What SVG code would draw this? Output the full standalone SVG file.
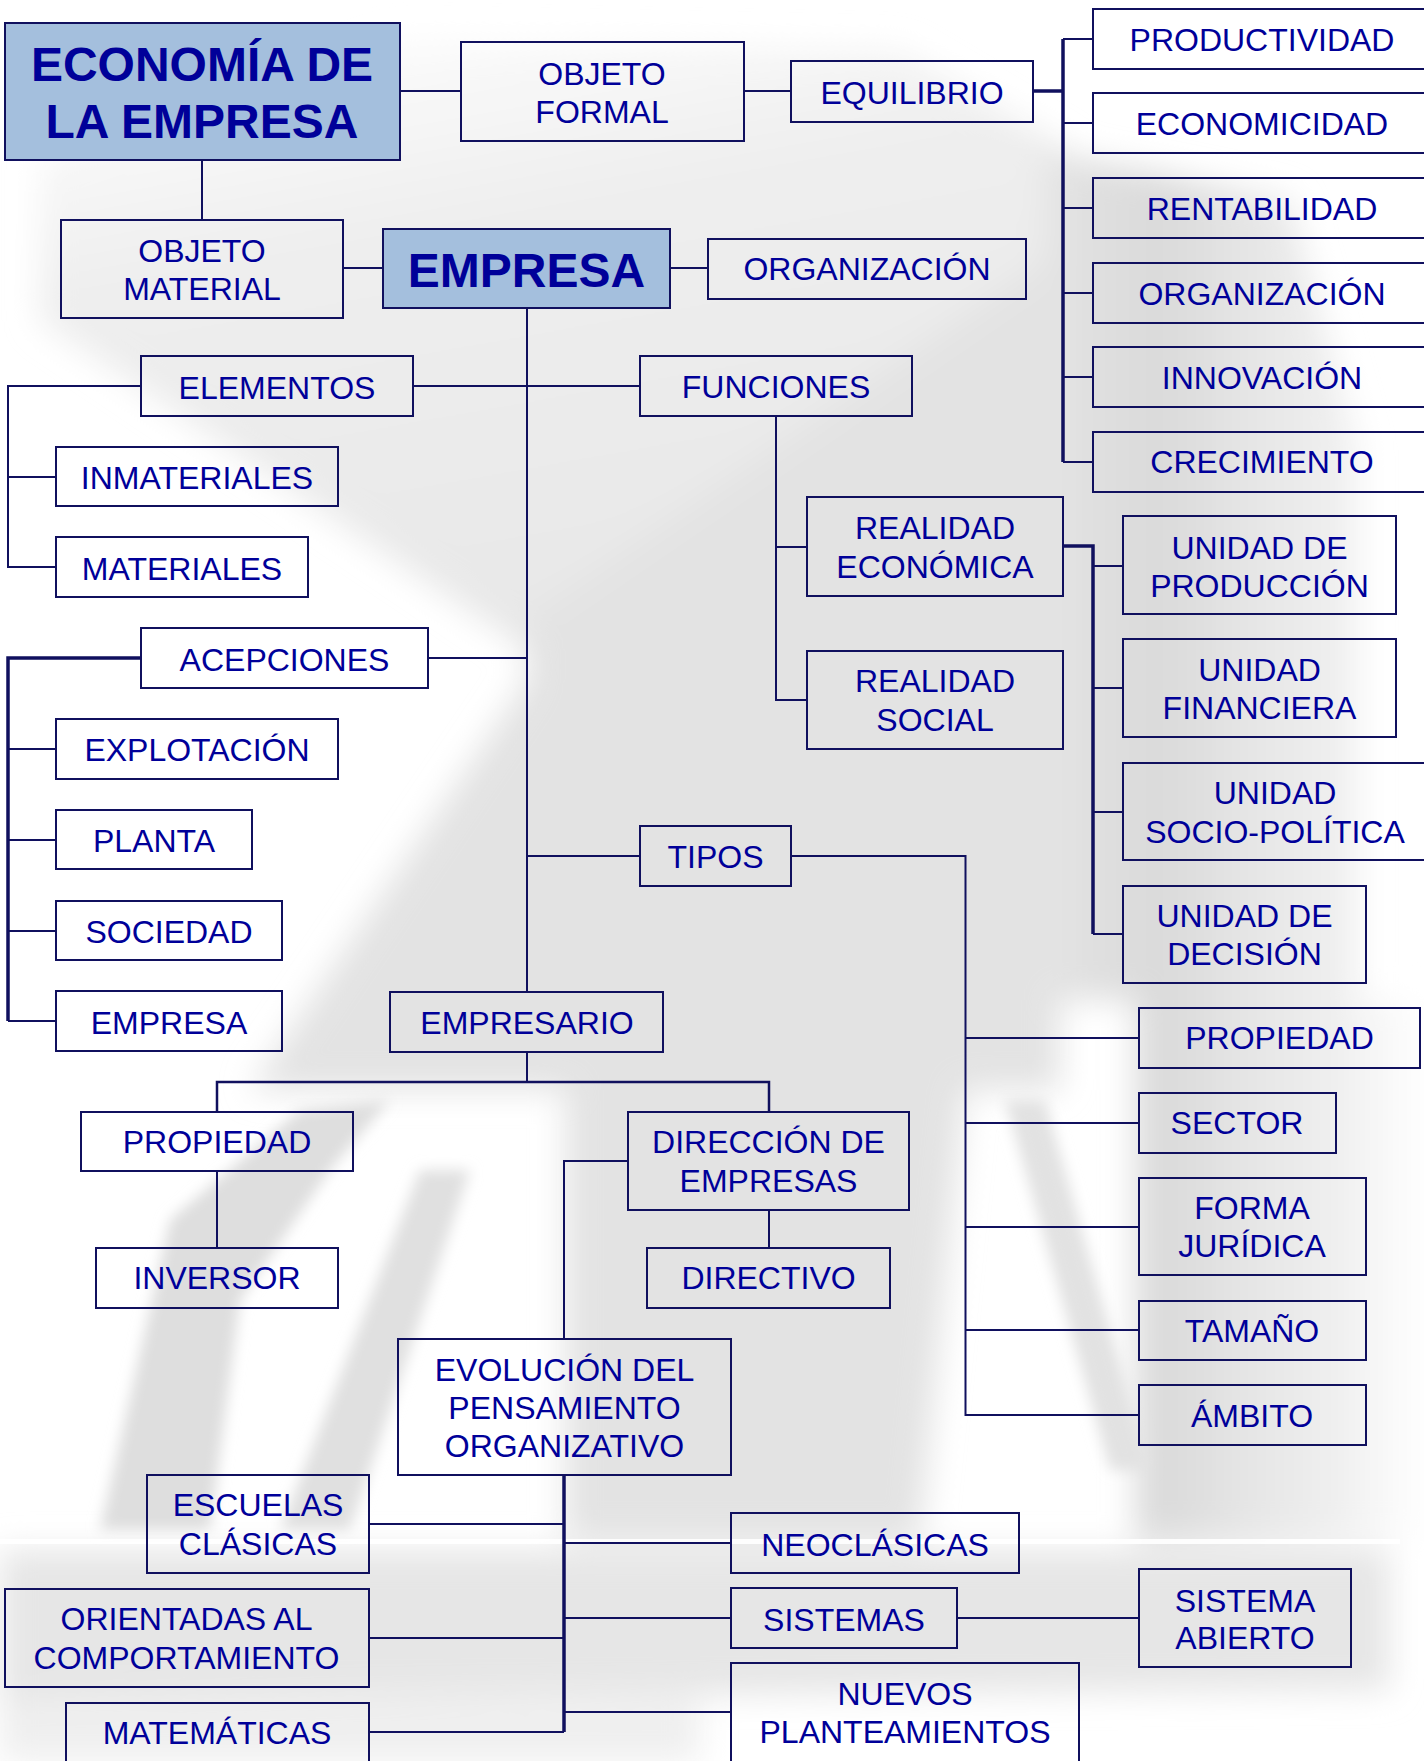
<svg xmlns="http://www.w3.org/2000/svg" width="1424" height="1761" viewBox="0 0 1424 1761">
<defs>
<style>
.box{fill:none;stroke:#10105e;stroke-width:2}
.hbox{fill:#a4bfdd;stroke:#10105e;stroke-width:2}
.t{font-family:"Liberation Sans",Arial,sans-serif;font-size:32px;fill:#000099;text-anchor:middle}
.tb{font-weight:bold;font-size:48px}
.c{fill:none;stroke:#10105e;stroke-width:2}
.ct{stroke-width:3.5}
</style>
<filter id="blur" x="-20%" y="-20%" width="140%" height="140%"><feGaussianBlur stdDeviation="16"/></filter>
<filter id="blur2" x="-20%" y="-20%" width="140%" height="140%"><feGaussianBlur stdDeviation="7"/></filter>
<linearGradient id="bld" x1="0" y1="0" x2="1" y2="0">
<stop offset="0" stop-color="#e4e4e4"/><stop offset="0.3" stop-color="#dadada"/><stop offset="0.55" stop-color="#e6e6e6"/><stop offset="0.75" stop-color="#eeeeee"/><stop offset="1" stop-color="#ffffff"/>
</linearGradient>
<linearGradient id="top" x1="0" y1="0" x2="0.3" y2="1">
<stop offset="0" stop-color="#ffffff"/><stop offset="0.4" stop-color="#eeeeee"/><stop offset="1" stop-color="#e8e8e8"/>
</linearGradient>
</defs>
<g id="background">
<rect x="0" y="0" width="1424" height="1761" fill="#ffffff"/>
<g filter="url(#blur)">
<polygon points="40,160 400,40 900,50 1070,150 1070,620 527,650 40,320" fill="url(#top)"/>
<polygon points="527,620 1060,250 1060,1090 965,1090 920,1540 565,1540 565,1090 250,1090 527,680" fill="#e3e3e3"/>
<polygon points="1045,150 1290,200 1360,450 1360,1000 1424,1000 1424,1540 1135,1540 1135,1000 1045,1000" fill="url(#bld)"/>
<polygon points="0,1550 1390,1550 1390,1690 0,1700" fill="#e6e6e6"/>
<polygon points="0,1700 700,1700 700,1761 0,1761" fill="#efefef"/>
</g>
<g filter="url(#blur2)">
<polygon points="1005,1100 1045,1100 1150,1470 1110,1470" fill="#e2e2e2"/>
<polygon points="100,1530 170,1220 300,1110 390,1100 330,1170 240,1300 210,1530" fill="#dedede"/>
<polygon points="280,1530 420,1170 470,1170 350,1530" fill="#e0e0e0"/>
</g>
<rect x="0" y="1539" width="1400" height="5" fill="#ffffff" opacity="0.9"/>
</g>
<g id="connectors">
<path class="c" d="M400 91H461"/>
<path class="c" d="M744 91H791"/>
<path class="c ct" d="M1033 91H1063"/>
<path class="c ct" d="M1063 39V462"/>
<path class="c" d="M1063 39H1093M1063 123H1093M1063 208H1093M1063 293H1093M1063 377H1093M1063 462H1093"/>
<path class="c" d="M202 160V220"/>
<path class="c" d="M343 268H383"/>
<path class="c" d="M670 268H708"/>
<path class="c" d="M527 308V992"/>
<path class="c" d="M413 386H640"/>
<path class="c" d="M141 386H8V567H56M8 477H56"/>
<path class="c" d="M776 416V700H807M776 547H807"/>
<path class="c ct" d="M1063 546H1093V934"/>
<path class="c" d="M1093 566H1123M1093 688H1123M1093 812H1123M1093 934H1123"/>
<path class="c" d="M428 658H527"/>
<path class="c ct" d="M141 658H8V1021"/>
<path class="c" d="M8 749H56M8 840H56M8 931H56M8 1021H56"/>
<path class="c" d="M527 856H640"/>
<path class="c" d="M791 856H965.5V1415H1139M965.5 1038H1139M965.5 1123H1139M965.5 1227H1139M965.5 1330H1139"/>
<path class="c" d="M527 1052V1082"/>
<path class="c" style="stroke-width:2.5" d="M217 1112V1082H769V1112"/>
<path class="c" d="M217 1171V1248"/>
<path class="c" d="M769 1210V1248"/>
<path class="c" d="M628 1161H564V1339"/>
<path class="c ct" d="M564 1475V1732"/>
<path class="c" d="M564 1524H369M564 1638H369M564 1732H369M564 1543H731M564 1618H731M564 1712H731"/>
<path class="c" d="M957 1618H1139"/>
</g>
<g id="n-economia"><rect class="hbox" x="5" y="23" width="395" height="137"/><text class="t tb" x="202" y="81">ECONOMÍA DE</text><text class="t tb" x="202" y="138">LA EMPRESA</text></g>
<g id="n-objeto-formal"><rect class="box" x="461" y="42" width="283" height="99"/><text class="t" x="602" y="85">OBJETO</text><text class="t" x="602" y="123">FORMAL</text></g>
<g id="n-equilibrio"><rect class="box" x="791" y="61" width="242" height="61"/><text class="t" x="912" y="104">EQUILIBRIO</text></g>
<g id="n-productividad"><rect class="box" x="1093" y="9" width="338" height="60"/><text class="t" x="1262" y="51">PRODUCTIVIDAD</text></g>
<g id="n-economicidad"><rect class="box" x="1093" y="93" width="338" height="60"/><text class="t" x="1262" y="135">ECONOMICIDAD</text></g>
<g id="n-rentabilidad"><rect class="box" x="1093" y="178" width="338" height="60"/><text class="t" x="1262" y="220">RENTABILIDAD</text></g>
<g id="n-organizacion-r"><rect class="box" x="1093" y="263" width="338" height="60"/><text class="t" x="1262" y="305">ORGANIZACIÓN</text></g>
<g id="n-innovacion"><rect class="box" x="1093" y="347" width="338" height="60"/><text class="t" x="1262" y="389">INNOVACIÓN</text></g>
<g id="n-crecimiento"><rect class="box" x="1093" y="432" width="338" height="60"/><text class="t" x="1262" y="473">CRECIMIENTO</text></g>
<g id="n-objeto-material"><rect class="box" x="61" y="220" width="282" height="98"/><text class="t" x="202" y="262">OBJETO</text><text class="t" x="202" y="300">MATERIAL</text></g>
<g id="n-empresa"><rect class="hbox" x="383" y="229" width="287" height="79"/><text class="t tb" x="526.5" y="287">EMPRESA</text></g>
<g id="n-organizacion-m"><rect class="box" x="708" y="239" width="318" height="60"/><text class="t" x="867" y="280">ORGANIZACIÓN</text></g>
<g id="n-elementos"><rect class="box" x="141" y="356" width="272" height="60"/><text class="t" x="277" y="399">ELEMENTOS</text></g>
<g id="n-funciones"><rect class="box" x="640" y="356" width="272" height="60"/><text class="t" x="776" y="398">FUNCIONES</text></g>
<g id="n-inmateriales"><rect class="box" x="56" y="447" width="282" height="59"/><text class="t" x="197" y="489">INMATERIALES</text></g>
<g id="n-materiales"><rect class="box" x="56" y="537" width="252" height="60"/><text class="t" x="182" y="580">MATERIALES</text></g>
<g id="n-realidad-economica"><rect class="box" x="807" y="497" width="256" height="99"/><text class="t" x="935" y="539">REALIDAD</text><text class="t" x="935" y="578">ECONÓMICA</text></g>
<g id="n-realidad-social"><rect class="box" x="807" y="651" width="256" height="98"/><text class="t" x="935" y="692">REALIDAD</text><text class="t" x="935" y="731">SOCIAL</text></g>
<g id="n-unidad-produccion"><rect class="box" x="1123" y="516" width="273" height="98"/><text class="t" x="1259.5" y="559">UNIDAD DE</text><text class="t" x="1259.5" y="597">PRODUCCIÓN</text></g>
<g id="n-unidad-financiera"><rect class="box" x="1123" y="639" width="273" height="98"/><text class="t" x="1259.5" y="681">UNIDAD</text><text class="t" x="1259.5" y="719">FINANCIERA</text></g>
<g id="n-unidad-sociopolitica"><rect class="box" x="1123" y="763" width="304" height="97"/><text class="t" x="1275" y="804">UNIDAD</text><text class="t" x="1275" y="843">SOCIO-POLÍTICA</text></g>
<g id="n-unidad-decision"><rect class="box" x="1123" y="886" width="243" height="97"/><text class="t" x="1244.5" y="927">UNIDAD DE</text><text class="t" x="1244.5" y="965">DECISIÓN</text></g>
<g id="n-acepciones"><rect class="box" x="141" y="628" width="287" height="60"/><text class="t" x="284.5" y="671">ACEPCIONES</text></g>
<g id="n-explotacion"><rect class="box" x="56" y="719" width="282" height="60"/><text class="t" x="197" y="761">EXPLOTACIÓN</text></g>
<g id="n-planta"><rect class="box" x="56" y="810" width="196" height="59"/><text class="t" x="154" y="852">PLANTA</text></g>
<g id="n-sociedad"><rect class="box" x="56" y="901" width="226" height="59"/><text class="t" x="169" y="943">SOCIEDAD</text></g>
<g id="n-empresa-acepcion"><rect class="box" x="56" y="991" width="226" height="60"/><text class="t" x="169" y="1034">EMPRESA</text></g>
<g id="n-tipos"><rect class="box" x="640" y="826" width="151" height="60"/><text class="t" x="715.5" y="868">TIPOS</text></g>
<g id="n-empresario"><rect class="box" x="390" y="992" width="273" height="60"/><text class="t" x="527" y="1034">EMPRESARIO</text></g>
<g id="n-propiedad-tipo"><rect class="box" x="1139" y="1008" width="281" height="60"/><text class="t" x="1279.5" y="1049">PROPIEDAD</text></g>
<g id="n-sector"><rect class="box" x="1139" y="1093" width="197" height="60"/><text class="t" x="1237" y="1134">SECTOR</text></g>
<g id="n-forma-juridica"><rect class="box" x="1139" y="1178" width="227" height="97"/><text class="t" x="1252" y="1219">FORMA</text><text class="t" x="1252" y="1257">JURÍDICA</text></g>
<g id="n-tamano"><rect class="box" x="1139" y="1301" width="227" height="59"/><text class="t" x="1252" y="1342">TAMAÑO</text></g>
<g id="n-ambito"><rect class="box" x="1139" y="1385" width="227" height="60"/><text class="t" x="1252" y="1427">ÁMBITO</text></g>
<g id="n-propiedad-empresario"><rect class="box" x="81" y="1112" width="272" height="59"/><text class="t" x="217" y="1153">PROPIEDAD</text></g>
<g id="n-inversor"><rect class="box" x="96" y="1248" width="242" height="60"/><text class="t" x="217" y="1289">INVERSOR</text></g>
<g id="n-direccion"><rect class="box" x="628" y="1112" width="281" height="98"/><text class="t" x="768.5" y="1153">DIRECCIÓN DE</text><text class="t" x="768.5" y="1192">EMPRESAS</text></g>
<g id="n-directivo"><rect class="box" x="647" y="1248" width="243" height="60"/><text class="t" x="768.5" y="1289">DIRECTIVO</text></g>
<g id="n-evolucion"><rect class="box" x="398" y="1339" width="333" height="136"/><text class="t" x="564.5" y="1381">EVOLUCIÓN DEL</text><text class="t" x="564.5" y="1419">PENSAMIENTO</text><text class="t" x="564.5" y="1457">ORGANIZATIVO</text></g>
<g id="n-escuelas"><rect class="box" x="147" y="1475" width="222" height="98"/><text class="t" x="258" y="1516">ESCUELAS</text><text class="t" x="258" y="1555">CLÁSICAS</text></g>
<g id="n-orientadas"><rect class="box" x="5" y="1589" width="364" height="98"/><text class="t" x="186.5" y="1630">ORIENTADAS AL</text><text class="t" x="186.5" y="1669">COMPORTAMIENTO</text></g>
<g id="n-matematicas"><rect class="box" x="66" y="1703" width="303" height="80"/><text class="t" x="217" y="1744">MATEMÁTICAS</text></g>
<g id="n-neoclasicas"><rect class="box" x="731" y="1513" width="288" height="60"/><text class="t" x="875" y="1556">NEOCLÁSICAS</text></g>
<g id="n-sistemas"><rect class="box" x="731" y="1588" width="226" height="60"/><text class="t" x="844" y="1631">SISTEMAS</text></g>
<g id="n-nuevos"><rect class="box" x="731" y="1663" width="348" height="120"/><text class="t" x="905" y="1705">NUEVOS</text><text class="t" x="905" y="1743">PLANTEAMIENTOS</text></g>
<g id="n-sistema-abierto"><rect class="box" x="1139" y="1569" width="212" height="98"/><text class="t" x="1245" y="1612">SISTEMA</text><text class="t" x="1245" y="1649">ABIERTO</text></g>
</svg>
